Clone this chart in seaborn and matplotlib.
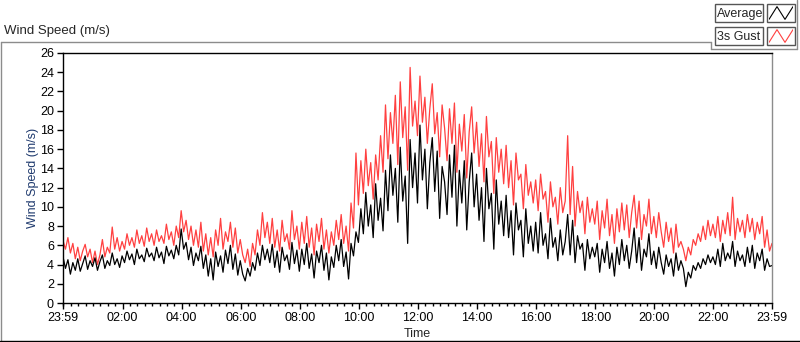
### Dependencies ---------------------------------------------------------------
import pandas as pd
import numpy as np
import matplotlib
matplotlib.use("Agg")
import matplotlib.pyplot as plt
import matplotlib.dates as mdates
from matplotlib.patches import Rectangle
from matplotlib.lines import Line2D
import seaborn as sns

############ DATA (5-minute samples) ##################################
start_time = "2024-01-01 23:59"
sample_step = "5min"

# Average wind speed (m/s), 12 samples per hour, 00h .. 23h, then last point
avg_h00 = [4.8, 3.6, 4.5, 3.0, 4.2, 3.4, 4.6, 3.3, 4.1, 4.9, 3.5, 4.4]
avg_h01 = [3.8, 4.7, 3.4, 4.3, 5.0, 3.6, 4.4, 3.9, 5.2, 4.0, 4.6, 3.7]
avg_h02 = [4.9, 4.2, 5.4, 4.5, 5.1, 4.0, 5.6, 4.6, 5.0, 4.3, 5.7, 4.8]
avg_h03 = [5.2, 4.4, 5.8, 4.7, 5.3, 4.1, 5.9, 4.9, 5.5, 4.6, 6.0, 5.0]
avg_h04 = [7.7, 5.6, 6.3, 4.5, 5.8, 3.9, 5.2, 4.4, 5.9, 3.6, 5.0, 2.8]
avg_h05 = [4.6, 2.4, 5.3, 3.8, 4.9, 3.2, 5.5, 4.1, 6.0, 3.5, 5.1, 2.9]
avg_h06 = [4.4, 3.0, 2.3, 3.6, 2.8, 4.2, 3.4, 5.2, 3.9, 6.0, 4.5, 5.6]
avg_h07 = [4.2, 6.1, 3.7, 5.4, 3.2, 5.8, 4.4, 5.0, 3.5, 6.3, 4.1, 5.5]
avg_h08 = [3.3, 5.6, 4.0, 6.2, 3.6, 5.1, 2.6, 5.4, 4.2, 6.0, 3.4, 5.2]
avg_h09 = [2.4, 4.8, 3.7, 6.0, 4.4, 6.6, 3.8, 5.3, 2.5, 6.2, 4.9, 7.4]
avg_h10 = [6.3, 9.8, 7.2, 11.5, 8.0, 10.2, 6.8, 12.4, 8.6, 10.9, 7.5, 13.8]
avg_h11 = [9.6, 15.4, 11.2, 14.0, 8.4, 16.2, 10.6, 13.2, 6.2, 17.0, 12.0, 15.6]
avg_h12 = [10.4, 18.5, 12.8, 16.0, 9.8, 14.6, 17.2, 11.6, 15.8, 8.8, 14.2, 12.6]
avg_h13 = [9.2, 15.4, 11.0, 16.4, 8.0, 13.8, 10.4, 14.8, 7.6, 12.6, 15.6, 10.0]
avg_h14 = [13.4, 8.6, 12.0, 6.4, 14.0, 9.8, 11.4, 5.6, 12.8, 8.2, 10.6, 7.0]
avg_h15 = [11.2, 6.8, 9.6, 5.0, 10.4, 7.6, 8.6, 4.8, 9.8, 6.2, 8.0, 5.4]
avg_h16 = [8.4, 5.2, 9.4, 6.0, 7.2, 4.6, 8.8, 5.8, 6.8, 4.4, 7.6, 5.0]
avg_h17 = [6.4, 9.2, 5.0, 8.6, 4.2, 7.0, 5.6, 6.2, 3.4, 6.6, 4.6, 5.8]
avg_h18 = [4.8, 6.2, 3.2, 5.6, 4.2, 6.4, 3.6, 5.2, 2.8, 5.8, 4.0, 6.6]
avg_h19 = [4.4, 6.0, 3.6, 5.4, 7.8, 4.2, 6.8, 3.4, 5.6, 4.8, 7.2, 4.0]
avg_h20 = [5.4, 3.6, 5.8, 4.2, 3.0, 5.0, 3.8, 4.6, 2.8, 5.2, 3.4, 4.4]
avg_h21 = [3.6, 1.7, 3.2, 2.6, 3.9, 3.4, 4.2, 3.6, 4.6, 4.0, 5.0, 4.2]
avg_h22 = [4.8, 4.0, 5.6, 3.8, 6.2, 4.4, 5.2, 4.6, 6.4, 3.8, 5.4, 4.4]
avg_h23 = [5.0, 3.8, 5.8, 4.2, 6.0, 3.6, 5.2, 4.4, 5.6, 3.4, 4.6, 3.8]
avg_end = [3.9]

# 3 second gust (m/s)
gust_h00 = [6.5, 5.6, 6.8, 5.2, 6.2, 4.6, 5.8, 4.4, 5.4, 6.1, 4.8, 5.6]
gust_h01 = [4.2, 5.4, 4.0, 5.0, 6.6, 4.8, 5.8, 5.2, 7.9, 5.6, 6.8, 5.4]
gust_h02 = [6.4, 5.6, 7.2, 6.0, 6.8, 5.8, 7.6, 6.2, 7.0, 5.9, 7.8, 6.4]
gust_h03 = [7.2, 6.0, 7.6, 6.4, 7.0, 6.2, 8.2, 6.6, 7.4, 6.0, 8.0, 6.8]
gust_h04 = [9.6, 7.4, 8.6, 6.6, 8.0, 6.0, 7.6, 5.8, 8.4, 5.4, 7.2, 5.0]
gust_h05 = [6.8, 4.8, 7.6, 6.0, 8.8, 5.6, 7.4, 6.4, 8.4, 5.8, 7.8, 5.2]
gust_h06 = [6.6, 5.0, 4.2, 5.6, 3.8, 6.2, 5.0, 7.6, 6.0, 9.4, 6.8, 8.4]
gust_h07 = [6.2, 8.8, 5.8, 7.6, 5.4, 8.6, 6.4, 7.2, 5.6, 9.6, 6.6, 8.0]
gust_h08 = [5.6, 8.4, 6.2, 9.0, 5.8, 7.8, 5.0, 8.2, 6.4, 8.8, 5.6, 7.6]
gust_h09 = [5.2, 7.4, 6.0, 8.6, 6.6, 9.2, 6.2, 8.0, 5.4, 10.4, 7.8, 15.6]
gust_h10 = [10.2, 14.8, 11.4, 16.0, 12.2, 14.6, 10.8, 15.4, 12.8, 17.4, 13.6, 20.6]
gust_h11 = [15.0, 19.8, 16.6, 21.6, 14.4, 23.0, 17.2, 20.4, 13.8, 24.5, 18.4, 21.0]
gust_h12 = [17.4, 23.6, 18.8, 21.4, 16.6, 20.2, 22.8, 17.6, 19.8, 15.2, 20.6, 18.2]
gust_h13 = [14.8, 20.2, 16.6, 20.8, 13.6, 18.6, 15.8, 19.6, 13.0, 17.8, 20.4, 15.6]
gust_h14 = [18.8, 14.2, 17.6, 12.6, 19.4, 15.2, 16.8, 11.4, 17.2, 13.6, 16.0, 12.4]
gust_h15 = [16.4, 12.0, 14.8, 10.2, 15.6, 12.8, 13.4, 9.8, 14.4, 11.2, 12.6, 10.4]
gust_h16 = [12.8, 9.6, 13.4, 10.8, 11.6, 8.4, 12.6, 10.0, 11.0, 8.2, 12.0, 9.4]
gust_h17 = [10.6, 17.4, 9.2, 14.2, 8.0, 11.6, 9.4, 10.6, 7.2, 11.0, 8.4, 9.8]
gust_h18 = [8.2, 10.6, 6.6, 9.6, 7.8, 10.8, 7.0, 9.2, 6.2, 9.8, 7.4, 10.4]
gust_h19 = [7.6, 10.2, 6.8, 9.4, 11.2, 7.8, 10.6, 6.6, 9.2, 8.0, 10.8, 7.2]
gust_h20 = [9.0, 6.8, 9.4, 7.4, 5.8, 8.4, 6.4, 7.8, 5.2, 8.2, 5.8, 6.4]
gust_h21 = [5.6, 4.4, 5.8, 5.0, 6.6, 6.0, 7.2, 6.4, 8.0, 6.6, 8.6, 7.0]
gust_h22 = [8.2, 6.8, 9.0, 6.4, 8.6, 7.2, 9.4, 7.0, 11.0, 6.6, 8.8, 7.4]
gust_h23 = [8.6, 6.8, 9.2, 7.4, 8.8, 6.6, 8.4, 7.2, 9.0, 5.8, 7.6, 5.4]
gust_end = [6.2]

y_ticks = list(range(0, 27, 2))
x_tick_hours = [2, 4, 6, 8, 10, 12, 14, 16, 18, 20, 22]
legend_names = ["Average", "3s Gust"]

############ BUILD TABLE ##############
average = (avg_h00 + avg_h01 + avg_h02 + avg_h03 + avg_h04 + avg_h05 + avg_h06 + avg_h07
           + avg_h08 + avg_h09 + avg_h10 + avg_h11 + avg_h12 + avg_h13 + avg_h14 + avg_h15
           + avg_h16 + avg_h17 + avg_h18 + avg_h19 + avg_h20 + avg_h21 + avg_h22 + avg_h23 + avg_end)
gust = (gust_h00 + gust_h01 + gust_h02 + gust_h03 + gust_h04 + gust_h05 + gust_h06 + gust_h07
        + gust_h08 + gust_h09 + gust_h10 + gust_h11 + gust_h12 + gust_h13 + gust_h14 + gust_h15
        + gust_h16 + gust_h17 + gust_h18 + gust_h19 + gust_h20 + gust_h21 + gust_h22 + gust_h23 + gust_end)

wind = pd.DataFrame({
    "time": pd.date_range(start_time, periods=len(average), freq=sample_step),
    "average": average,
    "gust": gust,
})

############ PLOT ##############
sns.set_style("white")
plt.rcParams["font.family"] = ["Liberation Sans", "DejaVu Sans"]

W, H = 800, 342
RED = "#ff4040"

def fx(px):
    return px / W

def fy(py):
    return 1 - py / H

fig = plt.figure(figsize=(W / 100, H / 100), dpi=100)
ax = fig.add_axes([fx(63), fy(303), fx(772) - fx(63), fy(53) - fy(303)])

sns.lineplot(data=wind, x="time", y="gust", ax=ax, color=RED, linewidth=0.9, estimator=None)
sns.lineplot(data=wind, x="time", y="average", ax=ax, color="black", linewidth=0.9, estimator=None)

t0 = wind["time"].iloc[0]
t1 = wind["time"].iloc[-1]
ax.set_xlim(t0, t1)
ax.set_ylim(0, 26)

major = [t0] + [t0.normalize() + pd.Timedelta(days=1, hours=h) for h in x_tick_hours] + [t1]
ax.xaxis.set_major_locator(matplotlib.ticker.FixedLocator(mdates.date2num(major)))
ax.xaxis.set_major_formatter(mdates.DateFormatter("%H:%M"))
ax.xaxis.set_minor_locator(mdates.MinuteLocator(byminute=[0, 15, 30, 45]))
ax.set_yticks(y_ticks)

ax.tick_params(axis="both", which="major", direction="out", length=4, width=1,
               color="black", labelsize=9, labelcolor="black", pad=2.5,
               bottom=True, left=True)
ax.tick_params(axis="x", which="minor", direction="out", length=2, width=1,
               color="black", bottom=True)

for side in ["left", "bottom", "top"]:
    ax.spines[side].set_color("black")
    ax.spines[side].set_linewidth(1)
ax.spines["right"].set_color("#8c8c8c")
ax.spines["right"].set_linewidth(1)

ax.set_xlabel("Time", fontsize=9, labelpad=3)
ax.set_ylabel("Wind Speed (m/s)", fontsize=9, color="#1f3a6e", labelpad=1)

# panel title and frame
fig.text(fx(4), fy(31), "Wind Speed (m/s)", fontsize=9.5, va="center", ha="left")
frame = [((0.5, 42), (711, 42), "#8c8c8c"),
         ((711, 42), (711, 49), "#8c8c8c"),
         ((711, 49), (797, 49), "#8c8c8c"),
         ((797, 0), (797, 49), "#8c8c8c"),
         ((0.5, 42), (0.5, 341), "#8c8c8c"),
         ((0, 341), (800, 341), "black")]
for (xa, ya), (xb, yb), c in frame:
    fig.add_artist(Line2D([fx(xa), fx(xb)], [fy(ya), fy(yb)], color=c, lw=1,
                          transform=fig.transFigure))

# legend boxes, LabVIEW style
for i, (name, col) in enumerate(zip(legend_names, ["black", RED])):
    top = 4 + i * 23
    fig.add_artist(Rectangle((fx(715), fy(top + 18)), fx(763) - fx(715), fy(top) - fy(top + 18),
                             transform=fig.transFigure, fill=False, ec="#555555", lw=1))
    fig.text(fx(717), fy(top + 9.5), name, fontsize=9, va="center", ha="left")
    fig.add_artist(Rectangle((fx(767), fy(top + 18)), fx(795) - fx(767), fy(top) - fy(top + 18),
                             transform=fig.transFigure, fill=False, ec="#555555", lw=1))
    zig = fig.add_axes([fx(769), fy(top + 16), fx(793) - fx(769), fy(top + 2) - fy(top + 16)])
    zig.plot([0, 1, 2, 3], [0, 1, 0, 1], color=col, lw=0.8)
    zig.set_xlim(0, 3)
    zig.set_ylim(-0.05, 1.05)
    zig.axis("off")

fig.savefig("out.png", dpi=100)
